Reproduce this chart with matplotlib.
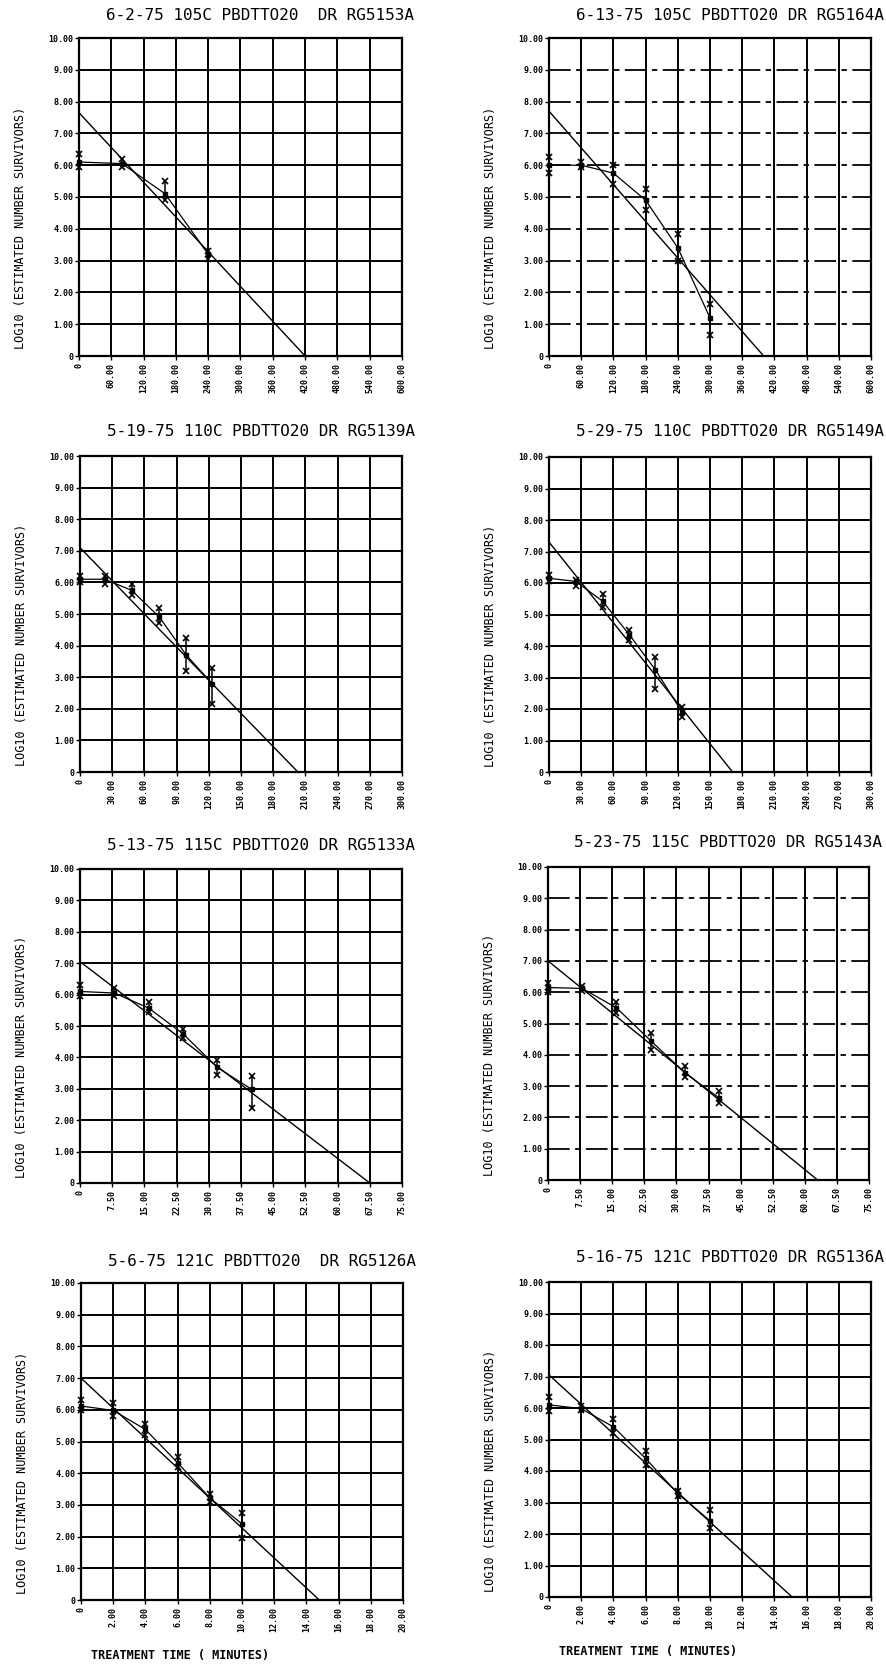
import matplotlib
matplotlib.use("Agg")
import matplotlib.pyplot as plt
import numpy as np

W, H = 887, 1664
plt.rcParams['font.family'] = ['DejaVu Sans Mono']

# panel titles, in reading order (left col, right col)
titles = ["6-2-75 105C PBDTTO20  DR RG5153A",
          "6-13-75 105C PBDTTO20 DR RG5164A",
          "5-19-75 110C PBDTTO20 DR RG5139A",
          "5-29-75 110C PBDTTO20 DR RG5149A",
          "5-13-75 115C PBDTTO20 DR RG5133A",
          "5-23-75 115C PBDTTO20 DR RG5143A",
          "5-6-75 121C PBDTTO20  DR RG5126A",
          "5-16-75 121C PBDTTO20 DR RG5136A"]

x_max = [600, 600, 300, 300, 75, 75, 20, 20]
x_step = [60, 60, 30, 30, 7.5, 7.5, 2, 2]

# treatment times (minutes) and log10 survivors: mean, low end, high end
times_1 = [0, 80, 160, 240]
mean_1 = [6.1, 6.05, 5.1, 3.2]
lo_1 = [5.95, 5.95, 4.9, 3.05]
hi_1 = [6.35, 6.2, 5.5, 3.3]

times_2 = [0, 60, 120, 180, 240, 300]
mean_2 = [6.0, 6.0, 5.75, 4.9, 3.4, 1.2]
lo_2 = [5.75, 5.95, 5.4, 4.6, 3.0, 0.65]
hi_2 = [6.25, 6.1, 6.0, 5.25, 3.85, 1.65]

times_3 = [0, 23, 48, 74, 99, 123]
mean_3 = [6.1, 6.1, 5.75, 4.9, 3.7, 2.8]
lo_3 = [6.0, 5.95, 5.6, 4.7, 3.2, 2.15]
hi_3 = [6.2, 6.2, 5.95, 5.2, 4.25, 3.3]

times_4 = [0, 25, 50, 75, 99, 124]
mean_4 = [6.15, 6.05, 5.42, 4.35, 3.25, 1.9]
lo_4 = [6.05, 5.9, 5.25, 4.2, 2.65, 1.75]
hi_4 = [6.25, 6.1, 5.65, 4.5, 3.65, 2.05]

times_5 = [0, 8, 16, 24, 32, 40]
mean_5 = [6.1, 6.05, 5.57, 4.75, 3.68, 2.98]
lo_5 = [5.95, 5.95, 5.45, 4.62, 3.45, 2.4]
hi_5 = [6.3, 6.2, 5.75, 4.9, 3.92, 3.4]

times_6 = [0, 8, 16, 24, 32, 40]
mean_6 = [6.15, 6.12, 5.5, 4.45, 3.42, 2.62]
lo_6 = [6.0, 6.05, 5.35, 4.15, 3.3, 2.45]
hi_6 = [6.3, 6.2, 5.7, 4.7, 3.65, 2.85]

times_7 = [0, 2, 4, 6, 8, 10]
mean_7 = [6.12, 5.98, 5.38, 4.33, 3.22, 2.4]
lo_7 = [6.0, 5.8, 5.2, 4.2, 3.1, 1.95]
hi_7 = [6.3, 6.2, 5.55, 4.5, 3.35, 2.75]

times_8 = [0, 2, 4, 6, 8, 10]
mean_8 = [6.1, 5.98, 5.4, 4.4, 3.28, 2.42]
lo_8 = [5.9, 5.95, 5.2, 4.2, 3.2, 2.2]
hi_8 = [6.35, 6.05, 5.65, 4.65, 3.35, 2.75]

# fitted line: value at t=0 and time where it reaches 0
reg_intercept = [7.65, 7.7, 7.1, 7.3, 7.05, 7.0, 7.0, 7.05]
reg_zero = [420, 400, 203, 171, 67.5, 63, 14.8, 15.1]

times = [times_1, times_2, times_3, times_4, times_5, times_6, times_7, times_8]
means = [mean_1, mean_2, mean_3, mean_4, mean_5, mean_6, mean_7, mean_8]
lows = [lo_1, lo_2, lo_3, lo_4, lo_5, lo_6, lo_7, lo_8]
highs = [hi_1, hi_2, hi_3, hi_4, hi_5, hi_6, hi_7, hi_8]

# layout in pixels: left, top, right, bottom of each plot frame
boxes = [(79, 38, 402, 356), (549, 38, 871, 356),
         (80, 456, 402, 772), (549, 457, 871, 772),
         (80, 869, 402, 1183), (548, 867, 869, 1180),
         (81, 1283, 403, 1600), (549, 1282, 871, 1597)]
title_y = [15, 15, 432, 432, 845, 843, 1262, 1257]
broken_hgrid = [False, True, False, False, False, True, False, False]


def fmt(v, pos=None):
    if abs(v) < 1e-9:
        return "0"
    return f"{v:.2f}"


fig = plt.figure(figsize=(W / 100, H / 100), dpi=100)
fig.patch.set_facecolor('white')

for i in range(8):
    l, t, r, b = boxes[i]
    ax = fig.add_axes([l / W, 1 - b / H, (r - l) / W, (b - t) / H])
    ax.set_xlim(0, x_max[i])
    ax.set_ylim(0, 10)
    xt = np.arange(0, x_max[i] + x_step[i] / 2, x_step[i])
    ax.set_xticks(xt)
    ax.set_yticks(np.arange(0, 11))
    ax.xaxis.set_major_formatter(plt.FuncFormatter(fmt))
    ax.yaxis.set_major_formatter(plt.FuncFormatter(fmt))
    ax.tick_params(axis='x', labelrotation=90, labelsize=6, length=3, width=1, pad=2)
    ax.tick_params(axis='y', labelsize=6, length=3, width=1, pad=1)
    for lab in ax.get_xticklabels() + ax.get_yticklabels():
        lab.set_fontweight('bold')
    ax.set_axisbelow(True)
    ax.xaxis.grid(True, color='black', lw=1.4)
    if broken_hgrid[i]:
        ax.yaxis.grid(True, color='black', lw=1.3, linestyle=(0, (12, 3, 3, 3)))
    else:
        ax.yaxis.grid(True, color='black', lw=1.4)
    for s in ax.spines.values():
        s.set_linewidth(1.6)

    x = times[i]
    # fitted survivor line
    ax.plot([0, reg_zero[i]], [reg_intercept[i], 0], color='black', lw=1.0, zorder=3)
    # line joining the means
    ax.plot(x, means[i], color='black', lw=0.9, zorder=3)
    # spread of each time point
    ax.vlines(x, lows[i], highs[i], color='black', lw=1.1, zorder=4, clip_on=False)
    ax.plot(x, lows[i], 'x', color='black', ms=4.5, mew=1.2, zorder=4, clip_on=False)
    ax.plot(x, highs[i], 'x', color='black', ms=4.5, mew=1.2, zorder=4, clip_on=False)
    ax.plot(x, means[i], 's', color='black', ms=3.5, zorder=5, clip_on=False)

    fig.text((l + r) / 2 / W + 20 / W, 1 - title_y[i] / H, titles[i],
             ha='center', va='center', fontsize=11.5)
    fig.text((l - 58) / W, 1 - ((t + b) / 2 + 31) / H,
             "LOG10 (ESTIMATED NUMBER SURVIVORS)",
             rotation=90, ha='center', va='center', fontsize=8.5)

fig.text(180 / W, 1 - 1655 / H, "TREATMENT TIME ( MINUTES)",
         ha='center', va='center', fontsize=8.5, fontweight='bold')
fig.text(648 / W, 1 - 1652 / H, "TREATMENT TIME ( MINUTES)",
         ha='center', va='center', fontsize=8.5, fontweight='bold')

fig.savefig("out.png", dpi=100, facecolor='white')
